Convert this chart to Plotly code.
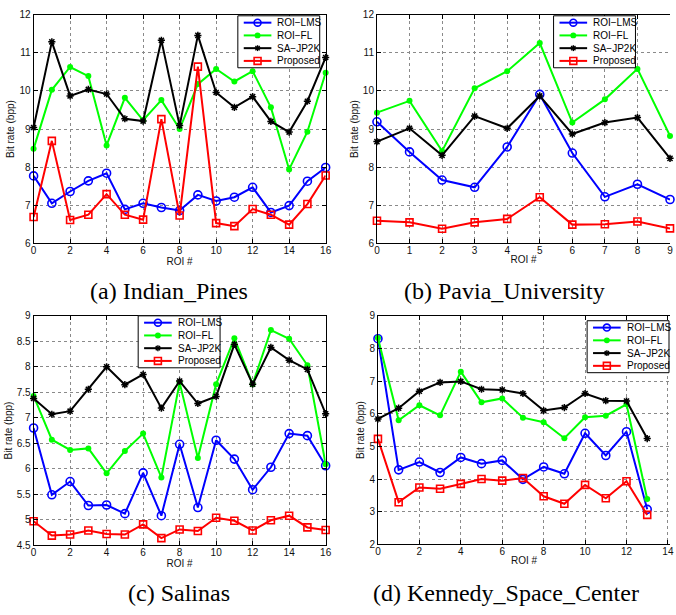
import plotly.graph_objects as go

W, H = 676, 615

series_names = ["ROI\u2212LMS", "ROI\u2212FL", "SA\u2212JP2K", "Proposed"]

# (a) Indian_Pines
a_roi = list(range(17))
a_lms = [7.77, 7.05, 7.36, 7.64, 7.84, 6.89, 7.05, 6.94, 6.86, 7.27, 7.11, 7.21, 7.47, 6.81, 6.99, 7.63, 7.99]
a_fl = [8.48, 10.03, 10.63, 10.39, 8.57, 9.82, 9.23, 9.76, 9.00, 10.18, 10.58, 10.25, 10.52, 9.57, 7.94, 8.93, 10.48]
a_jp2k = [9.04, 11.29, 9.87, 10.04, 9.92, 9.27, 9.21, 11.33, 9.09, 11.46, 9.96, 9.57, 9.85, 9.20, 8.92, 9.73, 10.88]
a_prop = [6.69, 8.69, 6.61, 6.75, 7.29, 6.75, 6.62, 9.26, 6.73, 10.64, 6.53, 6.45, 6.90, 6.75, 6.49, 7.03, 7.78]

# (b) Pavia_University
b_roi = list(range(10))
b_lms = [9.19, 8.40, 7.66, 7.47, 8.53, 9.91, 8.37, 7.22, 7.55, 7.15]
b_fl = [9.43, 9.74, 8.42, 10.07, 10.52, 11.26, 9.17, 9.78, 10.58, 8.82]
b_jp2k = [8.67, 9.02, 8.31, 9.34, 9.02, 9.87, 8.87, 9.17, 9.30, 8.23]
b_prop = [6.59, 6.55, 6.38, 6.55, 6.64, 7.21, 6.49, 6.50, 6.57, 6.39]

# (c) Salinas
c_roi = list(range(17))
c_lms = [6.80, 5.49, 5.75, 5.28, 5.29, 5.12, 5.92, 5.08, 6.48, 5.24, 6.56, 6.19, 5.59, 6.03, 6.69, 6.65, 6.06]
c_fl = [7.43, 6.57, 6.37, 6.40, 5.91, 6.35, 6.69, 5.83, 7.69, 6.21, 7.66, 8.56, 7.66, 8.72, 8.55, 8.03, 6.09]
c_jp2k = [7.38, 7.07, 7.13, 7.56, 8.00, 7.65, 7.85, 7.19, 7.72, 7.28, 7.42, 8.44, 7.66, 8.38, 8.13, 7.95, 7.08]
c_prop = [4.97, 4.69, 4.71, 4.79, 4.72, 4.71, 4.91, 4.64, 4.81, 4.78, 5.04, 4.98, 4.79, 4.99, 5.08, 4.85, 4.80]

# (d) Kennedy_Space_Center
d_roi = list(range(14))
d_lms = [8.30, 4.28, 4.52, 4.20, 4.66, 4.47, 4.57, 3.99, 4.37, 4.16, 5.40, 4.72, 5.45, 3.07]
d_fl = [8.32, 5.80, 6.26, 5.95, 7.29, 6.35, 6.47, 5.88, 5.74, 5.25, 5.89, 5.94, 6.29, 3.39]
d_jp2k = [5.84, 6.17, 6.69, 6.96, 6.99, 6.75, 6.73, 6.62, 6.10, 6.19, 6.62, 6.40, 6.39, 5.24]
d_prop = [5.23, 3.29, 3.74, 3.70, 3.85, 4.00, 3.95, 4.03, 3.47, 3.24, 3.82, 3.41, 3.93, 2.90]

captions = ["(a) Indian_Pines", "(b) Pavia_University", "(c) Salinas", "(d) Kennedy_Space_Center"]

# ---------------- styles ----------------
colors = ["#0000ff", "#00ff00", "#000000", "#ff0000"]
styles = [
    dict(symbol="circle-open", size=8, line=dict(width=1.6, color=colors[0])),
    dict(symbol="circle", size=6, color=colors[1]),
    dict(symbol="asterisk-open", size=6, line=dict(width=1.5, color=colors[2])),
    dict(symbol="square-open", size=7, line=dict(width=1.6, color=colors[3])),
]


def px_x(p):
    return p / W


def px_y(p):
    return (H - p) / H


panels = [
    dict(roi=a_roi, vals=[a_lms, a_fl, a_jp2k, a_prop], x=(31, 327), y=(9, 242),
         xr=[0, 16], xd=2, yr=[6, 12], yd=1, leg=(238, 10), mirror=True),
    dict(roi=b_roi, vals=[b_lms, b_fl, b_jp2k, b_prop], x=(379, 676), y=(9, 242),
         xr=[0, 9], xd=1, yr=[6, 12], yd=1, leg=(558, 10), mirror=False),
    dict(roi=c_roi, vals=[c_lms, c_fl, c_jp2k, c_prop], x=(31, 327), y=(316, 550),
         xr=[0, 16], xd=2, yr=[4.5, 9], yd=0.5, leg=(137, 316), mirror=True),
    dict(roi=d_roi, vals=[d_lms, d_fl, d_jp2k, d_prop], x=(380, 676), y=(316, 549),
         xr=[0, 14.1], xd=2, yr=[2, 9], yd=1, leg=(592, 321), mirror=False),
]

fig = go.Figure()
tickfont = dict(family="Liberation Sans, Arial", size=10, color="#111")
layout = dict(width=W, height=H, margin=dict(l=0, r=0, t=0, b=0),
              paper_bgcolor="white", plot_bgcolor="white", showlegend=False)

shapes = []
annotations = []
LW, LH = 83, 53

for i, p in enumerate(panels):
    k = "" if i == 0 else str(i + 1)
    for j, name in enumerate(series_names):
        fig.add_trace(go.Scatter(
            x=p["roi"], y=p["vals"][j], name=name, mode="lines+markers",
            line=dict(color=colors[j], width=2), marker=styles[j],
            xaxis="x" + k, yaxis="y" + k, cliponaxis=False,
        ))
    axcommon = dict(showline=True, linecolor="black", linewidth=1,
                    ticks="inside", ticklen=4, tickcolor="black", tickwidth=1,
                    showgrid=True, gridcolor="#8a8a8a", griddash="dot", gridwidth=1,
                    zeroline=False, tickfont=tickfont)
    layout["xaxis" + k] = dict(axcommon, mirror="ticks",
                               domain=[px_x(p["x"][0]), px_x(p["x"][1])],
                               range=p["xr"], dtick=p["xd"], tick0=0, anchor="y" + k,
                               ticklabelstandoff=-2, ticklabeloverflow="allow",
                               title=dict(text="ROI #", font=tickfont, standoff=0))
    layout["yaxis" + k] = dict(axcommon, mirror="ticks" if p["mirror"] else False,
                               domain=[px_y(p["y"][1]), px_y(p["y"][0])],
                               range=p["yr"], dtick=p["yd"], tick0=0, anchor="x" + k,
                               title=dict(text="Bit rate (bpp)", font=tickfont, standoff=2))

    # compact MATLAB-style legend box
    L, T = p["leg"]
    shapes.append(dict(type="rect", xref="paper", yref="paper", layer="above",
                       x0=px_x(L), x1=px_x(L + LW), y0=px_y(T), y1=px_y(T + LH),
                       fillcolor="white", line=dict(color="black", width=1)))
    for j, name in enumerate(series_names):
        ry = T + 7 + 13 * j
        cx = L + 20
        shapes.append(dict(type="line", xref="paper", yref="paper", layer="above",
                           x0=px_x(L + 6), x1=px_x(L + 34), y0=px_y(ry), y1=px_y(ry),
                           line=dict(color=colors[j], width=2)))
        if j == 0:
            shapes.append(dict(type="circle", xref="paper", yref="paper", layer="above",
                               x0=px_x(cx - 3.5), x1=px_x(cx + 3.5), y0=px_y(ry - 3.5), y1=px_y(ry + 3.5),
                               line=dict(color=colors[j], width=1.6), fillcolor="rgba(0,0,0,0)"))
        elif j == 1:
            shapes.append(dict(type="circle", xref="paper", yref="paper", layer="above",
                               x0=px_x(cx - 3), x1=px_x(cx + 3), y0=px_y(ry - 3), y1=px_y(ry + 3),
                               line=dict(color=colors[j], width=0), fillcolor=colors[j]))
        elif j == 2:
            for (dx, dy) in [(3, 0), (0, 3), (2.2, 2.2), (2.2, -2.2)]:
                shapes.append(dict(type="line", xref="paper", yref="paper", layer="above",
                                   x0=px_x(cx - dx), x1=px_x(cx + dx), y0=px_y(ry - dy), y1=px_y(ry + dy),
                                   line=dict(color=colors[j], width=1.4)))
        else:
            shapes.append(dict(type="rect", xref="paper", yref="paper", layer="above",
                               x0=px_x(cx - 3.5), x1=px_x(cx + 3.5), y0=px_y(ry - 3.5), y1=px_y(ry + 3.5),
                               line=dict(color=colors[j], width=1.6), fillcolor="rgba(0,0,0,0)"))
        annotations.append(dict(text=name, x=px_x(L + 38), y=px_y(ry), xref="paper", yref="paper",
                                showarrow=False, xanchor="left", yanchor="middle",
                                font=dict(family="Liberation Sans, Arial", size=10, color="black")))

cap_pos = [(168, 291), (508, 291), (178, 599), (510, 599)]
for cap, (cx, cy) in zip(captions, cap_pos):
    annotations.append(dict(text=cap, x=px_x(cx), y=px_y(cy), xref="paper", yref="paper",
                            showarrow=False, xanchor="center", yanchor="middle",
                            font=dict(family="Liberation Serif, Times New Roman", size=24, color="black")))

layout["shapes"] = shapes
layout["annotations"] = annotations
fig.update_layout(**layout)
fig.write_html("out.html", config={"displayModeBar": False},
               post_script="document.body.style.margin='0';document.body.style.overflow='hidden';"
                           "document.documentElement.style.overflow='hidden';")
